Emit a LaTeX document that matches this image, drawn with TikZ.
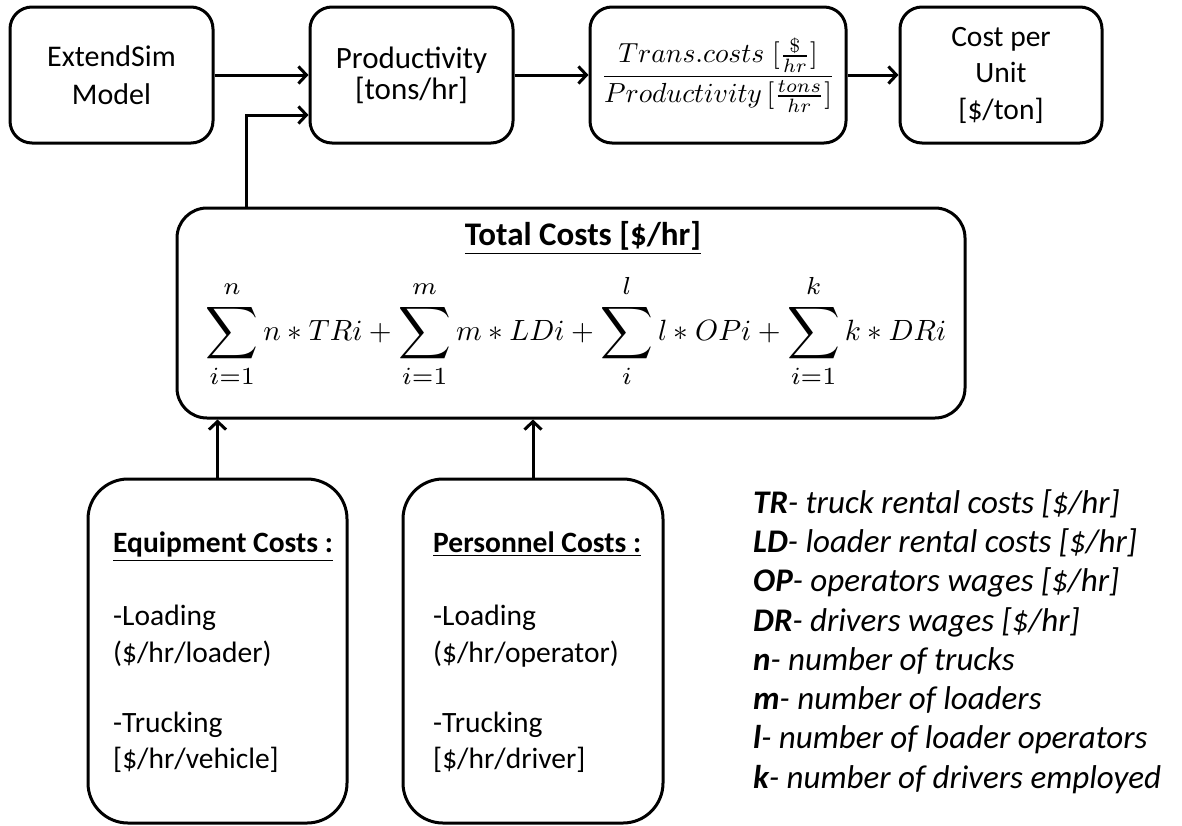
\documentclass[tikz,border=0pt]{standalone}
\usepackage{amsmath}
\usepackage{graphicx}
\usepackage{fontspec}
\setmainfont{Carlito}
\usetikzlibrary{arrows.meta}

\newcommand{\sz}[2]{\fontsize{#1}{#2}\selectfont}
% math set at 10pt and enlarged as a whole
\newcommand{\bigmath}[2]{\scalebox{#1}{\sz{10}{12}$\displaystyle #2$}}
% slightly larger limits
\newcommand{\sumlim}[1]{\mbox{\scalebox{1.2}{$\scriptstyle #1$}}}
% a taller summation sign with limits kept a little apart from it
\newcommand{\Sum}[2]{\mathop{\vcenter{\hbox{\scalebox{1.25}{$\displaystyle\sum$}}}}\limits_{\rule{0pt}{6pt}\sumlim{#1}}^{\sumlim{#2}\rule[-2pt]{0pt}{2pt}}}

\begin{document}
\begin{tikzpicture}[x=1pt,y=-1pt,
  box/.style={draw, line width=3pt, inner sep=0pt},
  topbox/.style={box, rounded corners=22pt, minimum height=136pt, align=center},
  link/.style={line width=3pt, -{Straight Barb[length=8pt,width=17pt]}},
  txt/.style={inner sep=0pt, anchor=base west},
  body/.style={txt, font=\sz{29.5}{36}},
  head/.style={txt, font=\bfseries\sz{29.5}{36}},
  legend/.style={txt, font=\itshape\sz{33}{39}},
]
\useasboundingbox (0,0) rectangle (1182,825);

% ---- top row ----
\node[topbox, minimum width=203pt, font=\sz{30}{38}] (ext) at (111.5,75) {ExtendSim\\Model};
\node[topbox, minimum width=203pt, font=\sz{31}{31}] (prod) at (411.5,75) {Productivity\\{[}tons/hr]};
\node[topbox, minimum width=256pt] (frac) at (718,75)
  {\bigmath{2.76}{\frac{Trans.costs\;[\frac{\$}{hr}]}{Productivity\,[\frac{tons}{hr}]}}};
\node[topbox, minimum width=202pt, font=\sz{29.5}{36.5}] (cost) at (1001,75) {Cost per\\Unit\\{[}\$/ton]};

% ---- total costs ----
\node[box, rounded corners=30pt, minimum width=788pt, minimum height=210pt] (total) at (571,313) {};
\node[inner sep=0pt, anchor=base, font=\bfseries\sz{33}{40}] (ttl) at (583,245) {\underline{Total Costs [\$/hr]}};
\node[inner sep=0pt] (sum) at (576,331)
  {\bigmath{2.93}{\Sum{i=1}{n} n*TRi+\Sum{i=1}{m} m*LDi+\Sum{i}{l} l*OPi+\Sum{i=1}{k} k*DRi}};

% ---- cost inputs ----
\node[box, rounded corners=40pt, minimum width=259pt, minimum height=344pt] (eq) at (217.5,651) {};
\node[box, rounded corners=40pt, minimum width=260pt, minimum height=344pt] (pc) at (533,651) {};

\node[head] (eqh) at (113,552) {\underline{Equipment Costs :}};
\node[body] (eq1) at (113,625) {-Loading};
\node[body] (eq2) at (113,662) {(\$/hr/loader)};
\node[body] (eq3) at (113,732) {-Trucking};
\node[body] (eq4) at (113,768) {[\$/hr/vehicle]};

\node[head] (pch) at (433,552) {\underline{Personnel Costs :}};
\node[body] (pc1) at (433,625) {-Loading};
\node[body] (pc2) at (433,662) {(\$/hr/operator)};
\node[body] (pc3) at (433,732) {-Trucking};
\node[body] (pc4) at (433,768) {[\$/hr/driver]};

% ---- legend ----
\node[legend] (k1) at (753,513) {\textbf{TR}- truck rental costs [\$/hr]};
\node[legend] (k2) at (753,552) {\textbf{LD}- loader rental costs [\$/hr]};
\node[legend] (k3) at (753,591) {\textbf{OP}- operators wages [\$/hr]};
\node[legend] (k4) at (753,631) {\textbf{DR}- drivers wages [\$/hr]};
\node[legend] (k5) at (753,670) {\textbf{n}- number of trucks};
\node[legend] (k6) at (753,709) {\textbf{m}- number of loaders};
\node[legend] (k7) at (753,748) {\textbf{l}- number of loader operators};
\node[legend] (k8) at (753,788) {\textbf{k}- number of drivers employed};

% ---- connectors ----
\coordinate (tv) at (246,0);
\draw[link] (ext.east) -- (prod.west);
\draw[link] (prod.east) -- (frac.west);
\draw[link] (frac.east) -- (cost.west);
\draw[link] (tv |- total.north) |- ([yshift=-40pt]prod.west);
\draw[link] (eq.north) -- (eq.north |- total.south);
\draw[link] (pc.north) -- (pc.north |- total.south);
\end{tikzpicture}
\end{document}
